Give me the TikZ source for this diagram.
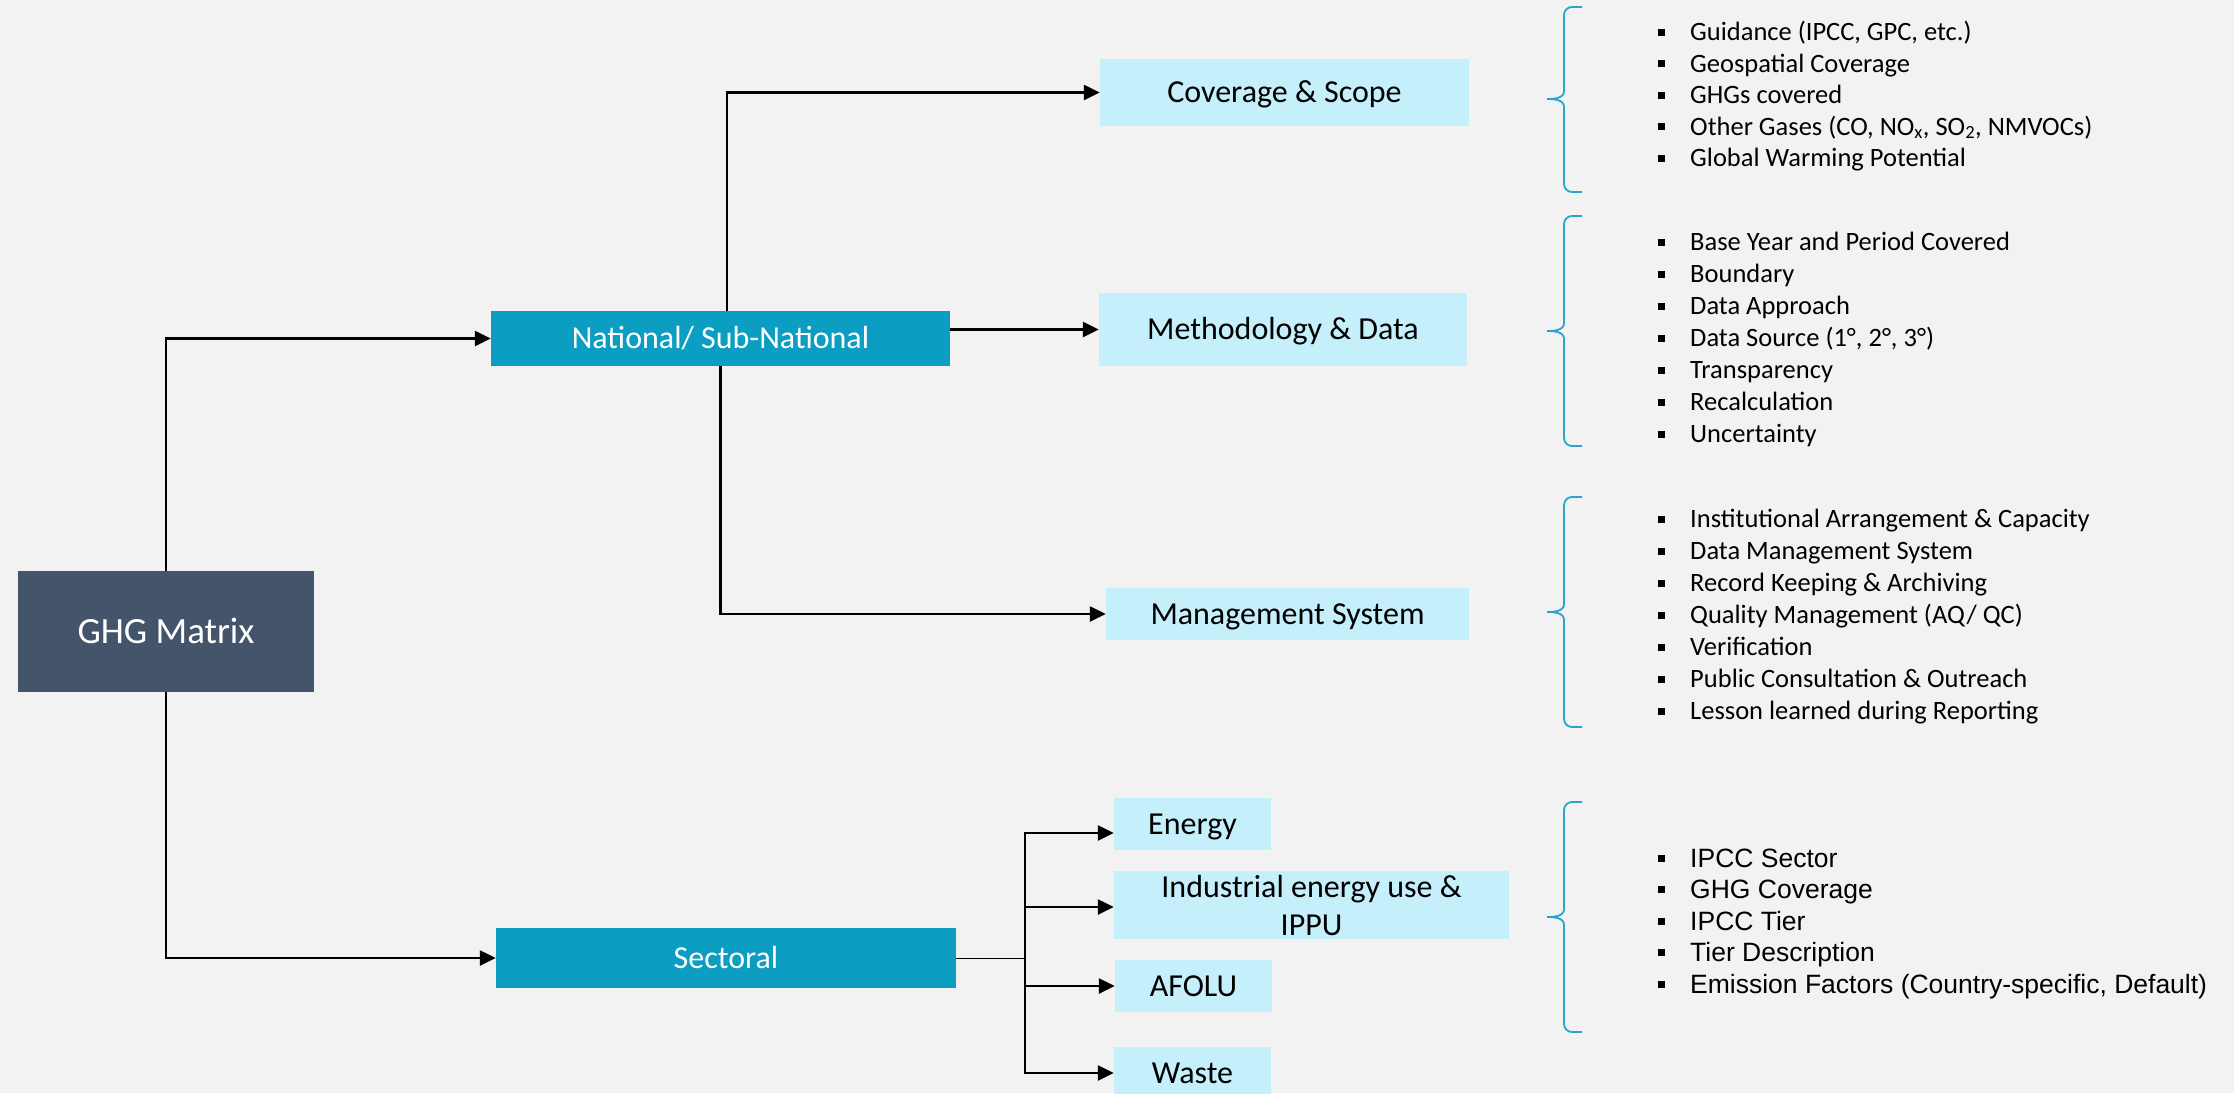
\documentclass[tikz,border=0pt]{standalone}
\usepackage{fontspec}
\setmainfont{Carlito}
\newfontfamily\arialf{Liberation Sans}
\usetikzlibrary{arrows.meta}
\definecolor{bgc}{RGB}{242,242,242}
\definecolor{ghgc}{RGB}{68,84,106}
\definecolor{natc}{RGB}{12,157,194}
\definecolor{lightc}{RGB}{197,239,251}
\definecolor{bracec}{RGB}{40,165,205}
\begin{document}
\begin{tikzpicture}[x=1pt,y=-1pt,
  box/.style={rectangle, inner sep=0pt, align=center, font=\fontsize{32}{38}\selectfont},
  sl/.style={text height=20.5pt, text depth=0pt},
  light/.style={box, fill=lightc, text=black},
  dark/.style={box, sl, fill=natc, text=white},
  ghgbox/.style={rectangle, inner sep=0pt, fill=ghgc, text=white, font=\fontsize{37}{44}\selectfont, text height=23.7pt, text depth=0pt},
  conn/.style={draw=black, line width=2.4pt, -{Triangle[length=16pt,width=15pt]}},
  brace/.style={draw=bracec, line width=1.8pt},
  item/.style={anchor=base west, inner sep=0pt, font=\fontsize{26.5}{32}\selectfont},
  itemb/.style={anchor=base west, inner sep=0pt, font=\arialf\fontsize{26.5}{32}\selectfont},
  bul/.style={rectangle, fill=black, minimum size=7pt, inner sep=0pt}
]
\useasboundingbox (0,0) rectangle (2234,1093);
\clip (0,0) rectangle (2234,1093);
\fill[bgc] (0,0) rectangle (2234,1093);

% main boxes
\node[ghgbox, minimum width=296pt, minimum height=121pt] (ghg) at (166,631.5) {GHG Matrix};
\node[dark, minimum width=459pt, minimum height=55pt] (nat) at (720.5,338.5) {National/ Sub-National};
\node[dark, minimum width=460pt, minimum height=60pt] (sect) at (726,958) {Sectoral};

\node[light, sl, minimum width=369pt, minimum height=67pt] (cov) at (1284.5,92.5) {Coverage \& Scope};
\node[light, sl, minimum width=368pt, minimum height=73pt] (meth) at (1283,329.5) {Methodology \& Data};
\node[light, sl, minimum width=363pt, minimum height=52pt] (mgmt) at (1287.5,614) {Management System};

\node[light, sl, minimum width=157pt, minimum height=52pt] (energy) at (1192.5,824) {Energy};
\node[light, minimum width=395pt, minimum height=68pt] (ind) at (1311.5,905) {Industrial energy use \&\\IPPU};
\node[light, sl, minimum width=157pt, minimum height=52pt] (afolu) at (1193.5,986) {AFOLU};
\node[light, sl, minimum width=157pt, minimum height=52pt] (waste) at (1192.5,1073) {Waste};

% connectors
\draw[conn] (ghg.north) |- (nat.west);
\draw[conn] (ghg.south) |- (sect.west);
\draw[conn] ([xshift=6.5pt]nat.north) |- (cov.west);
\draw[conn] (meth.west -| nat.east) -- (meth.west);
\draw[conn] (nat.south) |- (mgmt.west);
\coordinate (split) at (1025,958);
\draw[line width=1pt] (sect.east) -- (split);
\draw[conn] (split) |- ([yshift=-9pt]energy.west);
\draw[conn] (split) |- ([yshift=-2pt]ind.west);
\draw[conn] (split) |- (afolu.west);
\draw[conn] (split) |- (waste.west);

% braces
\foreach \t/\m/\b in {7/99/192, 216/331/446, 497/612/727, 802/917/1032}{
  \draw[brace] (1582,\t) -- (1572,\t) to[out=180,in=90] (1564,\t+8) -- (1564,\m-8)
    to[out=-90,in=0] (1547,\m) to[out=0,in=90] (1564,\m+8) -- (1564,\b-8)
    to[out=-90,in=180] (1572,\b) -- (1582,\b);
}

% list 1
\foreach [count=\i] \txt in {{Guidance (IPCC, GPC, etc.)},{Geospatial Coverage},{GHGs covered},{Other Gases (CO, NO\textsubscript{x}, SO\textsubscript{2}, NMVOCs)},{Global Warming Potential}}{
  \node[bul] (ba\i) at (1661,{32+31.5*(\i-1)}) {};
  \node[item] (ta\i) at (1690,{40.5+31.5*(\i-1)}) {\txt};
}
% list 2
\foreach [count=\i] \txt in {{Base Year and Period Covered},{Boundary},{Data Approach},{Data Source (1°, 2°, 3°)},{Transparency},{Recalculation},{Uncertainty}}{
  \node[bul] (bb\i) at (1661,{242+32*(\i-1)}) {};
  \node[item] (tb\i) at (1690,{250.5+32*(\i-1)}) {\txt};
}
% list 3
\foreach [count=\i] \txt in {{Institutional Arrangement \& Capacity},{Data Management System},{Record Keeping \& Archiving},{Quality Management (AQ/ QC)},{Verification},{Public Consultation \& Outreach},{Lesson learned during Reporting}}{
  \node[bul] (bc\i) at (1661,{519+32*(\i-1)}) {};
  \node[item] (tc\i) at (1690,{527.5+32*(\i-1)}) {\txt};
}
% list 4
\foreach [count=\i] \txt in {{IPCC Sector},{GHG Coverage},{IPCC Tier},{Tier Description},{Emission Factors (Country-specific, Default)}}{
  \node[bul] (bd\i) at (1661,{858+31.5*(\i-1)}) {};
  \node[itemb] (td\i) at (1690,{867+31.5*(\i-1)}) {\txt};
}
\end{tikzpicture}
\end{document}
